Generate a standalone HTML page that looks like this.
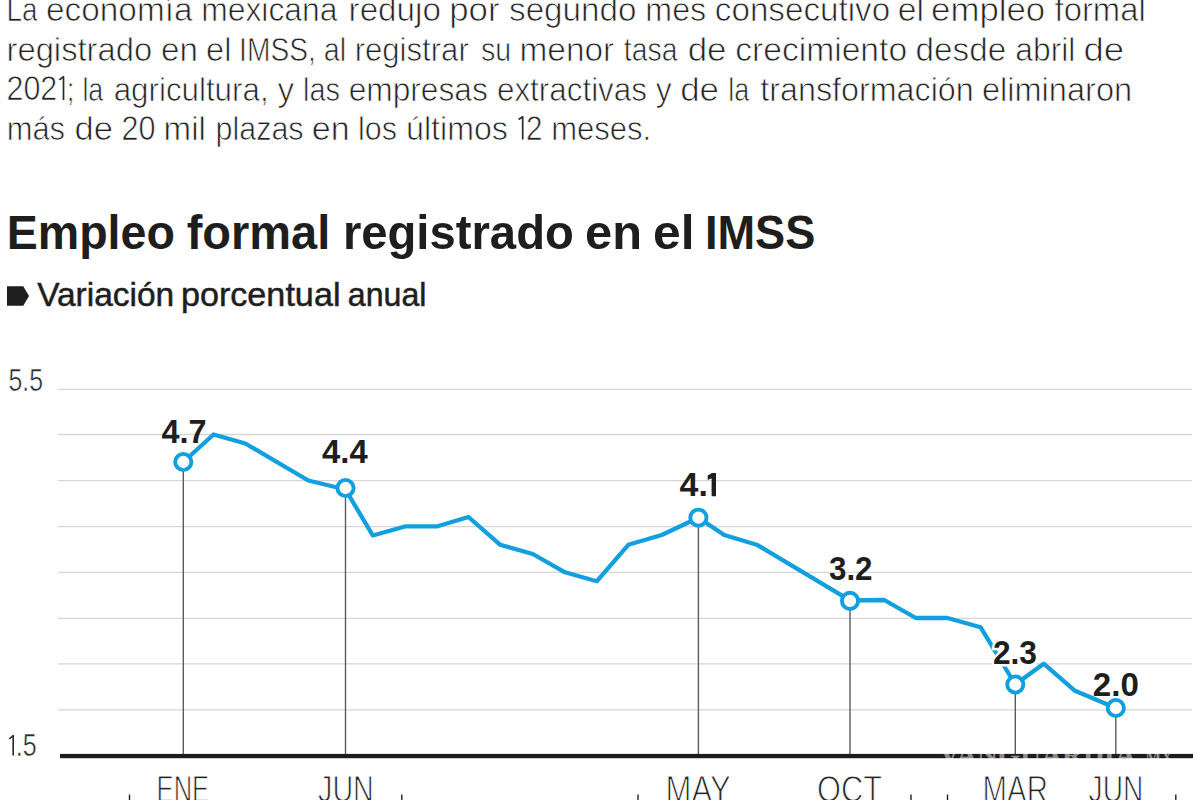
<!DOCTYPE html>
<html><head><meta charset="utf-8">
<style>
html,body{margin:0;padding:0;background:#fff;width:1200px;height:800px;overflow:hidden}
svg{display:block}
text{font-family:"Liberation Sans",sans-serif}
</style></head>
<body>
<svg width="1200" height="800" viewBox="0 0 1200 800">
<g fill="#222" font-size="33" stroke="#fff" stroke-width="0.75">
<text x="6.46" y="21.1" textLength="31.04" lengthAdjust="spacingAndGlyphs">La</text>
<text x="46.08" y="21.1" textLength="146.42" lengthAdjust="spacingAndGlyphs">economía</text>
<text x="201.18" y="21.1" textLength="136.32" lengthAdjust="spacingAndGlyphs">mexicana</text>
<text x="348.60" y="21.1" textLength="92.30" lengthAdjust="spacingAndGlyphs">redujo</text>
<text x="449.26" y="21.1" textLength="50.32" lengthAdjust="spacingAndGlyphs">por</text>
<text x="509.08" y="21.1" textLength="127.32" lengthAdjust="spacingAndGlyphs">segundo</text>
<text x="645.36" y="21.1" textLength="60.80" lengthAdjust="spacingAndGlyphs">mes</text>
<text x="714.84" y="21.1" textLength="175.30" lengthAdjust="spacingAndGlyphs">consecutivo</text>
<text x="897.87" y="21.1" textLength="26.18" lengthAdjust="spacingAndGlyphs">el</text>
<text x="931.02" y="21.1" textLength="114.19" lengthAdjust="spacingAndGlyphs">empleo</text>
<text x="1054.54" y="21.1" textLength="91.16" lengthAdjust="spacingAndGlyphs">formal</text>
<text x="6.52" y="61" textLength="145.65" lengthAdjust="spacingAndGlyphs">registrado</text>
<text x="161.09" y="61" textLength="36.86" lengthAdjust="spacingAndGlyphs">en</text>
<text x="206.12" y="61" textLength="25.25" lengthAdjust="spacingAndGlyphs">el</text>
<text x="239.10" y="61" textLength="76.73" lengthAdjust="spacingAndGlyphs">IMSS,</text>
<text x="323.78" y="61" textLength="22.34" lengthAdjust="spacingAndGlyphs">al</text>
<text x="354.63" y="61" textLength="114.18" lengthAdjust="spacingAndGlyphs">registrar</text>
<text x="480.90" y="61" textLength="30.19" lengthAdjust="spacingAndGlyphs">su</text>
<text x="519.48" y="61" textLength="94.78" lengthAdjust="spacingAndGlyphs">menor</text>
<text x="623.87" y="61" textLength="53.63" lengthAdjust="spacingAndGlyphs">tasa</text>
<text x="687.73" y="61" textLength="38.82" lengthAdjust="spacingAndGlyphs">de</text>
<text x="735.27" y="61" textLength="171.84" lengthAdjust="spacingAndGlyphs">crecimiento</text>
<text x="915.60" y="61" textLength="90.57" lengthAdjust="spacingAndGlyphs">desde</text>
<text x="1015.35" y="61" textLength="60.08" lengthAdjust="spacingAndGlyphs">abril</text>
<text x="1083.47" y="61" textLength="40.66" lengthAdjust="spacingAndGlyphs">de</text>
<text x="82.39" y="100.6" textLength="20.91" lengthAdjust="spacingAndGlyphs">la</text>
<text x="113.67" y="100.6" textLength="154.94" lengthAdjust="spacingAndGlyphs">agricultura,</text>
<text x="277.42" y="100.6" textLength="16.65" lengthAdjust="spacingAndGlyphs">y</text>
<text x="303.05" y="100.6" textLength="37.00" lengthAdjust="spacingAndGlyphs">las</text>
<text x="348.65" y="100.6" textLength="139.19" lengthAdjust="spacingAndGlyphs">empresas</text>
<text x="496.97" y="100.6" textLength="149.97" lengthAdjust="spacingAndGlyphs">extractivas</text>
<text x="655.72" y="100.6" textLength="16.04" lengthAdjust="spacingAndGlyphs">y</text>
<text x="680.23" y="100.6" textLength="38.82" lengthAdjust="spacingAndGlyphs">de</text>
<text x="728.18" y="100.6" textLength="21.02" lengthAdjust="spacingAndGlyphs">la</text>
<text x="760.31" y="100.6" textLength="213.48" lengthAdjust="spacingAndGlyphs">transformación</text>
<text x="981.92" y="100.6" textLength="150.20" lengthAdjust="spacingAndGlyphs">eliminaron</text>
<text x="6.64" y="140" textLength="58.47" lengthAdjust="spacingAndGlyphs">más</text>
<text x="74.55" y="140" textLength="38.49" lengthAdjust="spacingAndGlyphs">de</text>
<text x="163.60" y="140" textLength="42.32" lengthAdjust="spacingAndGlyphs">mil</text>
<text x="215.54" y="140" textLength="88.06" lengthAdjust="spacingAndGlyphs">plazas</text>
<text x="311.85" y="140" textLength="37.86" lengthAdjust="spacingAndGlyphs">en</text>
<text x="357.95" y="140" textLength="38.95" lengthAdjust="spacingAndGlyphs">los</text>
<text x="406.12" y="140" textLength="101.74" lengthAdjust="spacingAndGlyphs">últimos</text>
<text x="551.24" y="140" textLength="99.89" lengthAdjust="spacingAndGlyphs">meses.</text>
<text x="6.47" y="100.3" font-size="35.5" textLength="50.76" lengthAdjust="spacingAndGlyphs">202</text>
<path d="M59.3 79.9 L63.5 76.8 V100" fill="none" stroke="#2a2a2a" stroke-width="1.7" stroke-linejoin="round"/>
<text x="66.83" y="100.6" textLength="7.64" lengthAdjust="spacingAndGlyphs">;</text>
<text x="121.46" y="139.7" font-size="35.5" textLength="33.98" lengthAdjust="spacingAndGlyphs">20</text>
<path d="M518.6 119.5 L522.7 116.8 V139.6" fill="none" stroke="#2a2a2a" stroke-width="1.7" stroke-linejoin="round"/>
<text x="526.01" y="139.7" font-size="35.5" textLength="16.48" lengthAdjust="spacingAndGlyphs">2</text>
</g>
<g font-size="49" font-weight="bold" fill="#1e1e1e">
<text x="6.68" y="249" textLength="168.24" lengthAdjust="spacingAndGlyphs">Empleo</text>
<text x="186.70" y="249" textLength="143.63" lengthAdjust="spacingAndGlyphs">formal</text>
<text x="342.89" y="249" textLength="230.96" lengthAdjust="spacingAndGlyphs">registrado</text>
<text x="585.09" y="249" textLength="56.93" lengthAdjust="spacingAndGlyphs">en</text>
<text x="653.06" y="249" textLength="41.46" lengthAdjust="spacingAndGlyphs">el</text>
<text x="704.98" y="249" textLength="110.38" lengthAdjust="spacingAndGlyphs">IMSS</text>
</g>
<path d="M7 286.2 H23.3 L29 296 L23.3 305.7 H7 Z" fill="#1e1e1e"/>
<g font-size="33" fill="#1e1e1e" stroke="#1e1e1e" stroke-width="0.5">
<text x="37.16" y="306" textLength="137.08" lengthAdjust="spacingAndGlyphs">Variación</text>
<text x="180.90" y="306" textLength="159.59" lengthAdjust="spacingAndGlyphs">porcentual</text>
<text x="347.84" y="306" textLength="78.61" lengthAdjust="spacingAndGlyphs">anual</text>
</g>

<g stroke="#d6d6d6" stroke-width="1.3">
<line x1="58" x2="1192" y1="389.40" y2="389.40"/>
<line x1="58" x2="1192" y1="434.50" y2="434.50"/>
<line x1="58" x2="1192" y1="480.60" y2="480.60"/>
<line x1="58" x2="1192" y1="526.60" y2="526.60"/>
<line x1="58" x2="1192" y1="572.30" y2="572.30"/>
<line x1="58" x2="1192" y1="618.45" y2="618.45"/>
<line x1="58" x2="1192" y1="663.80" y2="663.80"/>
<line x1="58" x2="1192" y1="709.90" y2="709.90"/>
</g>
<g fill="#2a2a2a" font-size="30.5" stroke="#fff" stroke-width="0.5">
<text x="8.5" y="390.8" textLength="34.54" lengthAdjust="spacingAndGlyphs">5.5</text>
<text x="15.72" y="755.8" textLength="20.83" lengthAdjust="spacingAndGlyphs">.5</text>
<path d="M9.4 738.9 L13.2 735.5 V755.5" fill="none" stroke="#2a2a2a" stroke-width="1.6" stroke-linejoin="round"/>
</g>
<g stroke="#5c5c5c" stroke-width="1.4">
<line x1="183.3" x2="183.3" y1="462" y2="756"/>
<line x1="345.5" x2="345.5" y1="488" y2="756"/>
<line x1="698.4" x2="698.4" y1="517.7" y2="756"/>
<line x1="850" x2="850" y1="600.4" y2="756"/>
<line x1="1015.3" x2="1015.3" y1="684.5" y2="756"/>
<line x1="1115.8" x2="1115.8" y1="708" y2="756"/>
</g>
<rect x="60" y="753.9" width="1133" height="4.3" fill="#1c1c1c"/>
<polyline fill="none" stroke="#129fe0" stroke-width="4.3" stroke-linejoin="round" points="183.3,462 213.5,434.5 245.3,443.5 308.3,480.5 345.5,489.5 372.8,535.5 405.8,526.3 437.5,526.3 468.5,517 500,544.7 532.8,554 565,572.3 596.7,581.3 628.3,544.8 661.7,535 698.4,517.7 724.2,535 756.7,544.7 850,600.4 884.2,600 915.8,618 947.5,618 980.5,627.2 1015.3,684.5 1043.7,663.7 1075,690.8 1115.8,708"/>
<g fill="#fff" stroke="#129fe0" stroke-width="3.9">
<circle cx="183.3" cy="462" r="8.1"/>
<circle cx="345.5" cy="488" r="8.1"/>
<circle cx="698.4" cy="517.7" r="8.1"/>
<circle cx="850" cy="600.9" r="8.1"/>
<circle cx="1015.3" cy="684.5" r="8.1"/>
<circle cx="1115.8" cy="708" r="8.1"/>
</g>
<g fill="#1e1e1e" font-size="33.7" font-weight="bold">
<text x="161.51" y="442.6" textLength="45.01" lengthAdjust="spacingAndGlyphs">4.7</text>
<text x="322.00" y="463.3" textLength="45.67" lengthAdjust="spacingAndGlyphs">4.4</text>
<text x="679.59" y="496.3" textLength="28.24" lengthAdjust="spacingAndGlyphs">4.</text>
<path d="M707.7 475.6 L712 473.1 H716 V496.3 H711.6 V478.3 L707.7 480 Z" stroke="none"/>
<text x="828.98" y="580.3" textLength="43.57" lengthAdjust="spacingAndGlyphs">3.2</text>
<text x="992.90" y="664.2" textLength="44.04" lengthAdjust="spacingAndGlyphs" stroke="#fff" stroke-width="5" paint-order="stroke">2.3</text>
<text x="1092.85" y="695.8" textLength="46.00" lengthAdjust="spacingAndGlyphs">2.0</text>
</g>
<g fill="#222" font-size="36" stroke="#fff" stroke-width="1">
<text x="156.61" y="802.3" textLength="52.49" lengthAdjust="spacingAndGlyphs">ENE</text>
<text x="318.05" y="802.3" textLength="55.79" lengthAdjust="spacingAndGlyphs">JUN</text>
<text x="665.53" y="802.3" textLength="65.13" lengthAdjust="spacingAndGlyphs">MAY</text>
<text x="817.04" y="802.3" textLength="64.96" lengthAdjust="spacingAndGlyphs">OCT</text>
<text x="982.59" y="802.3" textLength="65.27" lengthAdjust="spacingAndGlyphs">MAR</text>
<text x="1088.56" y="802.3" textLength="54.74" lengthAdjust="spacingAndGlyphs">JUN</text>
</g>
<clipPath id="axc"><rect x="0" y="753" width="1200" height="6"/></clipPath>
<g fill="#fff" fill-opacity="0.5" font-weight="bold" clip-path="url(#axc)">
<text x="939" y="764" font-size="27" textLength="197" lengthAdjust="spacingAndGlyphs" style="font-family:'Liberation Serif',serif">VANGUARDIA</text>
<text x="1141" y="764" font-size="19" textLength="32" lengthAdjust="spacingAndGlyphs" style="font-family:'Liberation Serif',serif">.MX</text>
</g>
<g stroke="#222" stroke-width="1.4">
<line x1="129.5" x2="129.5" y1="794.5" y2="800"/>
<line x1="401.8" x2="401.8" y1="794.5" y2="800"/>
<line x1="638" x2="638" y1="794.5" y2="800"/>
<line x1="911" x2="911" y1="794.5" y2="800"/>
<line x1="947.5" x2="947.5" y1="794.5" y2="800"/>
<line x1="1175.8" x2="1175.8" y1="794.5" y2="800"/>
</g>
</svg>
</body></html>
